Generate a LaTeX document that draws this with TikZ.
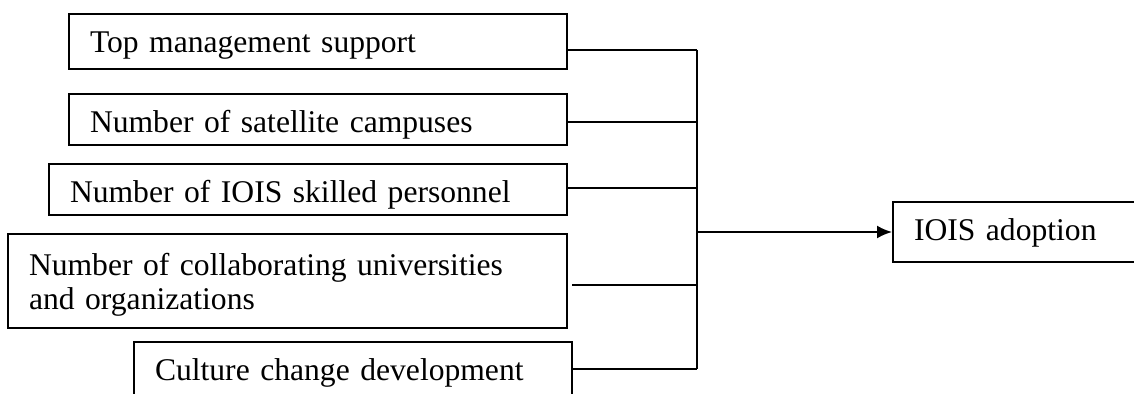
\documentclass[tikz,border=0pt]{standalone}
\usepackage{fontspec}
\setmainfont{Liberation Serif}
\usepackage{tikz}
\usetikzlibrary{arrows.meta}
\tikzset{every picture/.append style={x=0.5pt, y=-0.5pt}}
\tikzset{factor/.style={draw, line width=1pt, rectangle, anchor=north west, align=left, inner xsep=10.5pt, inner ysep=0pt, text height=19.5pt, font=\fontsize{15.8}{15}\selectfont}}
\tikzset{link/.style={line width=1pt}}
\tikzset{arrowlink/.style={link, -{Latex[length=7.5pt, width=6.5pt]}}}

\begin{document}
\begin{tikzpicture}
\useasboundingbox (0,0) rectangle (1134,394);
\clip (0,0) rectangle (1134,394);
\node (top) at (68,13)[factor, text width=228pt, text depth=8pt]{Top management support};
\node (sat) at (68,93)[factor, text width=228pt, text depth=6pt]{Number of satellite campuses};
\node (skill) at (48,163)[factor, text width=238pt, text depth=6pt]{Number of IOIS skilled personnel};
\node (collab) at (7,233)[factor, text width=258.5pt, text height=21pt, text depth=26pt]{Number of collaborating universities\\[2pt]and organizations};
\node (culture) at (133,341)[factor, text width=198pt, text depth=20pt]{Culture change development};
\node (adopt) at (892,201)[factor, text width=140pt, text depth=10.5pt]{IOIS adoption};

% joins on the bus
\coordinate (j1) at (697,50);
\coordinate (j2) at (697,122);
\coordinate (j3) at (697,188);
\coordinate (jm) at (697,232);
\coordinate (j4) at (697,285);
\coordinate (j5) at (697,369);

\draw [link] (j1) -- (j5);
\draw [link] (top.east |- j1) -- (j1);
\draw [link] (sat.east |- j2) -- (j2);
\draw [link] (skill.east |- j3) -- (j3);
\draw [link] ([xshift=2pt]collab.east |- j4) -- (j4);
\draw [link] (culture.east |- j5) -- (j5);
\draw [arrowlink] (jm) -- (adopt.west |- jm);
\end{tikzpicture}
\end{document}
